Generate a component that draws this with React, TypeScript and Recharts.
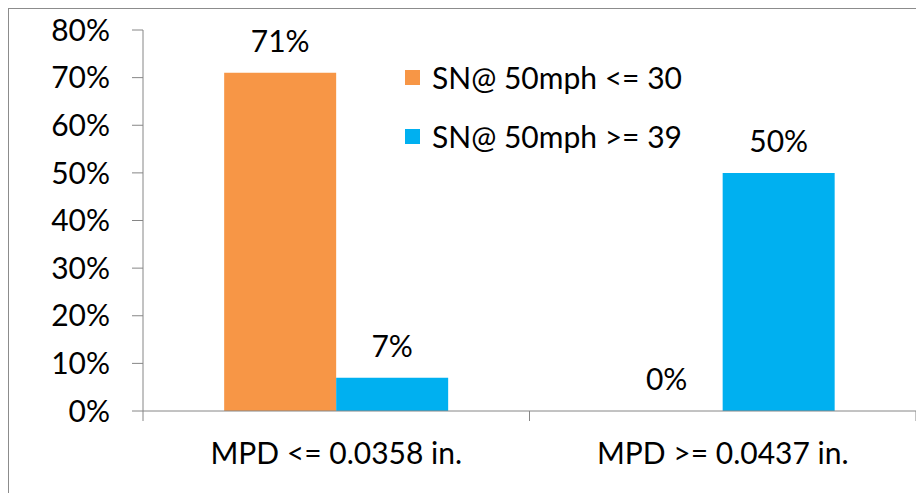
import React from "react";
import { BarChart, Bar, XAxis, YAxis, LabelList } from "recharts";

// Texture groups on the x axis
const categories = ["MPD <= 0.0358 in.", "MPD >= 0.0437 in."];
// Share of sections in each skid-number group
const lowSN = [0.71, 0];
const highSN = [0.07, 0.5];
const seriesNames = ["SN@ 50mph <= 30", "SN@ 50mph >= 39"];
const yTicks = [0, 0.1, 0.2, 0.3, 0.4, 0.5, 0.6, 0.7, 0.8];

const data = categories.map((name, i) => ({ name, low: lowSN[i], high: highSN[i] }));

const ORANGE = "#F79646";
const BLUE = "#00B0F0";
const AXIS = "#868686";
const FONT = "Lato, 'Open Sans', sans-serif";
const FS = 30;
const X_TICK_SIZE = 10;
const X_TICK_MARGIN = 22;

const pct = (v: number) => `${Math.round(v * 100)}%`;

// Category label plus boundary tick marks at both edges of the band
const XTick = (props: any) => {
  const { x, y, payload } = props;
  const off = payload?.offset ?? 0;
  const y0 = y - X_TICK_MARGIN - X_TICK_SIZE;
  const y1 = y - X_TICK_MARGIN;
  return (
    <g>
      <line x1={x - off} x2={x - off} y1={y0} y2={y1} stroke={AXIS} strokeWidth={1} />
      <line x1={x + off} x2={x + off} y1={y0} y2={y1} stroke={AXIS} strokeWidth={1} />
      <text x={x} y={y} dy="0.71em" textAnchor="middle" fill="#000" fontSize={FS} fontFamily={FONT}>
        {payload.value}
      </text>
    </g>
  );
};

const LegendBox = () => (
  <div style={{ position: "absolute", left: 397, top: 54, fontFamily: FONT, fontSize: FS, color: "#000" }}>
    {[ORANGE, BLUE].map((c, i) => (
      <div key={i} style={{ display: "flex", alignItems: "center", height: 30, marginBottom: 29 }}>
        <span style={{ display: "inline-block", width: 15, height: 15, background: c, marginRight: 12 }} />
        <span style={{ whiteSpace: "nowrap" }}>{seriesNames[i]}</span>
      </div>
    ))}
  </div>
);

export default function App() {
  return (
    <div style={{ position: "relative", width: 916, height: 485 }}>
      <div style={{ position: "absolute", left: -1, top: -1, width: 2, height: 486, background: "#8c8c8c" }} />
      <div style={{ position: "absolute", left: -1, top: -1, width: 917, height: 2, background: "#8c8c8c" }} />
      <div style={{ position: "absolute", left: 847, top: -8, width: 2, height: 8, background: "#8c8c8c" }} />
      <BarChart
        width={916}
        height={485}
        data={data}
        margin={{ top: 22, right: 8, left: 0, bottom: 22 }}
        barCategoryGap="21%"
        barGap={0}
      >
        <XAxis
          dataKey="name"
          stroke={AXIS}
          tickLine={false}
          tickSize={X_TICK_SIZE}
          tickMargin={X_TICK_MARGIN}
          height={60}
          tick={<XTick />}
          interval={0}
        />
        <YAxis
          domain={[0, 0.8]}
          ticks={yTicks}
          tickFormatter={pct}
          width={135}
          stroke={AXIS}
          tickSize={11}
          tickMargin={22}
          tick={{ fill: "#000", fontSize: FS, fontFamily: FONT }}
          interval={0}
        />
        <Bar dataKey="low" name={seriesNames[0]} fill={ORANGE} minPointSize={0.01} isAnimationActive={false}>
          <LabelList dataKey="low" position="top" offset={21} formatter={pct} fill="#000" fontSize={FS} fontFamily={FONT} />
        </Bar>
        <Bar dataKey="high" name={seriesNames[1]} fill={BLUE} isAnimationActive={false}>
          <LabelList dataKey="high" position="top" offset={21} formatter={pct} fill="#000" fontSize={FS} fontFamily={FONT} />
        </Bar>
      </BarChart>
      <LegendBox />
    </div>
  );
}
